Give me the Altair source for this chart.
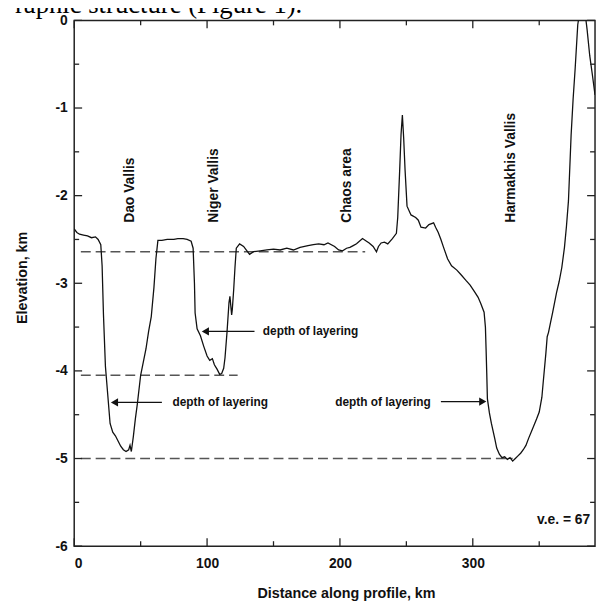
import altair as alt
import pandas as pd

# ---- profile data (km, km) ----
dist = [0, 2, 4, 7, 10, 13, 16, 18, 20, 21, 22, 23.5, 25.5, 27, 29, 31, 33, 35, 37, 39, 41, 42, 43,
        44.5, 46, 47.5, 50, 52, 54, 56, 58, 60, 61.5, 63, 66, 70, 75, 78, 82, 85, 88, 89.5, 90.5, 91,
        92.5, 95, 97.5, 100, 102, 104, 105.5, 107.5, 109.5, 111, 112.5, 113.5, 115, 116.5, 117.2,
        118.5, 119, 120, 121, 122, 124.5, 127.5, 130, 132, 135, 140, 145, 150, 155, 160, 165, 170,
        176, 180, 184, 188, 191, 196, 199, 202, 205, 207.5, 210, 212.5, 217, 220, 222, 225, 227.5,
        229, 231, 233.5, 236, 239.5, 242.5, 243.5, 245, 246, 247, 248, 249, 250.5, 253.5, 257, 259,
        261, 264.5, 267, 270.5, 272, 274, 276, 278, 281, 284, 288, 291, 295, 298, 301.5, 304, 306,
        308.5, 309.5, 310, 310.5, 311, 312.5, 314, 316.5, 318, 320, 322, 324, 326, 328, 330, 332,
        334, 336, 338, 340, 342, 345, 348, 350, 352, 353, 355, 356, 357, 358.5, 360, 363, 365, 367,
        369, 370.5, 372, 374, 375.5, 377, 379, 381, 384, 386, 388, 390, 392]
elev = [-2.38, -2.42, -2.44, -2.45, -2.46, -2.48, -2.47, -2.50, -2.56, -2.80, -3.35, -3.95, -4.32,
        -4.60, -4.70, -4.74, -4.80, -4.86, -4.90, -4.92, -4.90, -4.85, -4.92, -4.75, -4.55, -4.38,
        -4.05, -3.90, -3.75, -3.55, -3.38, -3.05, -2.72, -2.51, -2.51, -2.50, -2.50, -2.49, -2.49,
        -2.50, -2.52, -2.60, -3.00, -3.34, -3.52, -3.60, -3.72, -3.83, -3.88, -3.86, -3.93, -3.98,
        -4.04, -4.03, -3.97, -3.85, -3.56, -3.22, -3.15, -3.36, -3.30, -3.08, -2.82, -2.60, -2.55,
        -2.58, -2.63, -2.67, -2.64, -2.63, -2.62, -2.61, -2.62, -2.60, -2.62, -2.59, -2.57, -2.56,
        -2.55, -2.56, -2.54, -2.58, -2.62, -2.63, -2.60, -2.59, -2.57, -2.55, -2.49, -2.52, -2.54,
        -2.58, -2.64, -2.58, -2.54, -2.53, -2.55, -2.49, -2.43, -2.25, -1.70, -1.30, -1.08, -1.35,
        -1.70, -2.12, -2.22, -2.25, -2.28, -2.36, -2.37, -2.33, -2.31, -2.36, -2.42, -2.50, -2.59,
        -2.72, -2.80, -2.85, -2.90, -2.97, -3.02, -3.10, -3.16, -3.23, -3.33, -3.50, -3.75, -4.02,
        -4.32, -4.48, -4.60, -4.77, -4.88, -4.95, -4.99, -4.98, -5.01, -4.99, -5.03, -5.00, -4.97,
        -4.94, -4.90, -4.85, -4.77, -4.66, -4.55, -4.47, -4.30, -4.13, -3.80, -3.61, -3.56, -3.45,
        -3.34, -3.11, -2.98, -2.82, -2.59, -2.35, -2.06, -1.31, -0.90, -0.56, -0.05, 0.15, 0.15,
        -0.10, -0.40, -0.62, -0.85]

# ---- dashed reference levels ----
dash_y = [-2.64, -4.05, -5.00]
dash_x0 = [5, 5, 5]
dash_x1 = [219, 123, 330]

# ---- valley labels ----
valley_names = ["Dao Vallis", "Niger Vallis", "Chaos area", "Harmakhis Vallis"]
valley_x = [42.3, 105, 205, 328.5]
valley_y = [-2.31, -2.31, -2.31, -2.31]

# ---- "depth of layering" annotations ----
depth_labels = ["depth of layering", "depth of layering", "depth of layering"]
depth_x = [74, 142, 196.5]
depth_y = [-4.36, -3.55, -4.35]
arrow_from = [66, 135.7, 276]
arrow_tip = [26.8, 95.2, 311]
arrow_dir = ["left", "left", "right"]

ve_label = ["v.e. = 67"]
ve_x = [388.4]
ve_y = [-5.70]

x_major = [0, 100, 200, 300]
x_minor = [50, 150, 250, 350]
y_major = [0, -1, -2, -3, -4, -5, -6]
y_minor = [-0.5, -1.5, -2.5, -3.5, -4.5, -5.5]

top_text = ["raphic structure (Figure 1)."]

W, H = 527, 532
FONT = "Liberation Sans"

xs = alt.Scale(domain=[0, 392], nice=False, zero=False)
ys = alt.Scale(domain=[-6, 0], nice=False, zero=False)

AX = alt.Axis(
    values=x_major, title="Distance along profile, km", grid=False, domain=False, ticks=False,
    labelPadding=11, labelFontSize=14, labelFontWeight="bold", labelFont=FONT, labelColor="#111",
    titleFontSize=14.5, titleFontWeight="bold", titleFont=FONT, titleColor="#111",
    titleX=275, titleY=48, titleBaseline="middle", titleAlign="center")
AY = alt.Axis(
    values=y_major, title="Elevation, km", grid=False, domain=False, ticks=False,
    labelPadding=7, labelFontSize=14, labelFontWeight="bold", labelFont=FONT, labelColor="#111",
    labelExpr="datum.value < 0 ? '-' + (-datum.value) : '' + datum.value",
    titleFontSize=14.5, titleFontWeight="bold", titleFont=FONT, titleColor="#111",
    titleX=-52, titleY=260, titleBaseline="middle", titleAlign="center", titleAngle=270)


def X(f):
    return alt.X(f, scale=xs, axis=AX)


def Y(f):
    return alt.Y(f, scale=ys, axis=AY)


prof = pd.DataFrame({"d": dist, "e": elev})
line = alt.Chart(prof).mark_line(color="#111", strokeWidth=1.3, clip=True).encode(
    x=X("d:Q"), y=Y("e:Q"), order="d:Q")

dash_df = pd.DataFrame({"y": dash_y, "x0": dash_x0, "x1": dash_x1})
dashes = alt.Chart(dash_df).mark_rule(color="#555", strokeWidth=1.7, strokeDash=[10, 5]).encode(
    x=X("x0:Q"), x2="x1:Q", y=Y("y:Q"))

vdf = pd.DataFrame({"t": valley_names, "x": valley_x, "y": valley_y})
vtext = alt.Chart(vdf).mark_text(angle=270, align="left", baseline="middle", fontSize=14,
                                 fontWeight="bold", font=FONT, color="#111").encode(
    x=X("x:Q"), y=Y("y:Q"), text="t:N")

ddf = pd.DataFrame({"t": depth_labels, "x": depth_x, "y": depth_y})
dtext = alt.Chart(ddf).mark_text(align="left", baseline="middle", fontSize=12, fontWeight="bold",
                                 font=FONT, color="#111").encode(
    x=X("x:Q"), y=Y("y:Q"), text="t:N")

head_x = [t + 3.5 if dr == "left" else t - 3.5 for t, dr in zip(arrow_tip, arrow_dir)]
adf = pd.DataFrame({"x0": arrow_from, "x1": head_x, "y": depth_y, "dir": arrow_dir})
shafts = alt.Chart(adf).mark_rule(color="#111", strokeWidth=1.3).encode(
    x=X("x0:Q"), x2="x1:Q", y=Y("y:Q"))
heads = alt.Chart(adf).mark_point(filled=True, color="#111", size=70, opacity=1).encode(
    x=X("x1:Q"), y=Y("y:Q"),
    shape=alt.Shape("dir:N", scale=alt.Scale(domain=["left", "right"],
                                             range=["triangle-left", "triangle-right"]), legend=None))

vedf = pd.DataFrame({"t": ve_label, "x": ve_x, "y": ve_y})
vetext = alt.Chart(vedf).mark_text(align="right", baseline="middle", fontSize=14, fontWeight="bold",
                                   font=FONT, color="#111").encode(
    x=X("x:Q"), y=Y("y:Q"), text="t:N")


def xticks(vals, length):
    df = pd.DataFrame({"v": vals})
    b = alt.Chart(df).mark_rule(color="#222", strokeWidth=1.3).encode(
        x=X("v:Q"), y=alt.value(H), y2=alt.value(H - length))
    t = alt.Chart(df).mark_rule(color="#222", strokeWidth=1.3).encode(
        x=X("v:Q"), y=alt.value(0), y2=alt.value(length))
    return [b, t]


def yticks(vals, length):
    df = pd.DataFrame({"v": vals})
    l = alt.Chart(df).mark_rule(color="#222", strokeWidth=1.3).encode(
        y=Y("v:Q"), x=alt.value(0), x2=alt.value(length))
    r = alt.Chart(df).mark_rule(color="#222", strokeWidth=1.3).encode(
        y=Y("v:Q"), x=alt.value(W), x2=alt.value(W - length))
    return [l, r]


tdf = pd.DataFrame({"t": top_text})
toptext = alt.Chart(tdf).mark_text(align="left", baseline="alphabetic", fontSize=27,
                                   font="Liberation Serif", color="#000").encode(
    x=alt.value(-60), y=alt.value(-7.5), text="t:N")

layers = [dashes, line, shafts, heads, vtext, dtext, vetext]
layers += xticks(x_major, 8) + xticks(x_minor, 5) + yticks(y_major, 8) + yticks(y_minor, 5)
layers += [toptext]

chart = alt.layer(*layers).properties(
    width=W, height=H,
    padding={"left": 67, "top": 9, "right": 2, "bottom": 55},
    autosize=alt.AutoSizeParams(type="none"),
    background="white",
).configure_view(stroke="#222", strokeWidth=1.5)

chart.save("out.html", embed_options={"renderer": "svg", "actions": False})
